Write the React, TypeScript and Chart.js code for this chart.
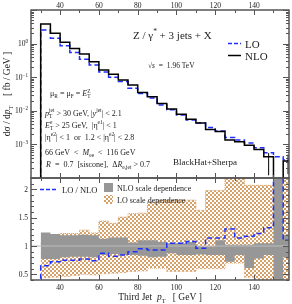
import React, { useEffect, useRef } from 'react';
import { Chart, registerables } from 'chart.js';
Chart.register(...registerables);

// ---------- DATA ----------
const binEdges = [30, 35, 40, 45, 50, 55, 60, 65, 70, 75, 80, 85, 90, 95, 100, 105, 110, 115, 120, 125, 130, 135, 140, 145, 150, 155, 160];
const nloValues = [3.83, 2.02, 1.09, 0.72, 0.49, 0.29, 0.164, 0.123, 0.083, 0.059, 0.035, 0.026, 0.0166, 0.0113, 0.0079, 0.0056, 0.0043, 0.0028, 0.0024, 0.00135, 0.0012, 0.00095, 0.0007, 0.00043, 0.000001, 0.00032];
const loValues = [2.54, 1.44, 0.87, 0.54, 0.34, 0.23, 0.144, 0.1, 0.074, 0.047, 0.033, 0.0242, 0.015, 0.0108, 0.0075, 0.0053, 0.0043, 0.0032, 0.0025, 0.0016, 0.00135, 0.0011, 0.0008, 0.00056, 0.00043, 0.00035];
const nloErrX = [147.5, 157.5];
const nloErrLow = [0.00012, 0.00013];
const nloErrHigh = [0.00055, 0.0005];

const ratioLoNlo = [0.65, 0.72, 0.75, 0.75, 0.77, 0.74, 0.87, 0.82, 0.84, 0.9, 0.95, 0.93, 0.93, 1.05, 1.05, 1.08, 0.96, 1.14, 1.14, 1.3, 1.14, 1.17, 1.22, 1.32, 5, 1.1];
const nloBandHigh = [1.24, 1.21, 1.19, 1.19, 1.2, 1.19, 1.13, 1.15, 1.15, 1.06, 1.1, 1.1, 1.075, 1.05, 1.05, 1.07, 0.99, 0.99, 1.1, 1.02, 1.02, 1.02, 1.05, 1.05, 3, 1.2];
const nloBandLow = [0.77, 0.77, 0.8, 0.81, 0.81, 0.8, 0.84, 0.86, 0.84, 0.84, 0.83, 0.8, 0.81, 0.87, 0.84, 0.84, 0.85, 0.84, 0.84, 0.72, 0.84, 0.61, 0.78, 0.84, 0, 0.8];
const loBandHigh = [1.05, 1.16, 1.22, 1.22, 1.28, 1.23, 1.44, 1.4, 1.51, 1.57, 1.58, 1.78, 1.8, 1.81, 1.81, 1.81, 1.63, 1.98, 1.98, 2.3, 2.3, 2.07, 2.07, 2.07, 3, 2.3];
const loBandLow = [0.44, 0.45, 0.46, 0.48, 0.5, 0.49, 0.51, 0.52, 0.53, 0.55, 0.56, 0.61, 0.61, 0.55, 0.55, 0.55, 0.6, 0.6, 0.6, 0.7, 0.7, 0.45, 0.4, 0.4, 0, 0.4];

const xMajorTicks = [40, 60, 80, 100, 120, 140];
const xMinorTicks = [30, 50, 70, 90, 110, 130, 150];
const upperDecades = [-4, -3, -2, -1, 0, 1];
const upperLabelDecades = [0, -1, -2, -3];
const lowerMajorTicks = [0.5, 1, 1.5, 2];
const lowerMajorLabels = ['0.5', '1', '1.5', '2'];

const X_MIN = 25, X_MAX = 158;
const FONT = '"Liberation Serif", "Times New Roman", serif';
const FRAME = '#555555';
const BLUE = '#1f2fff';
const ORANGE = '#d6a169';
const GREY = '#979797';

type Seg = { t?: string; it?: boolean; sub?: string; sup?: string };

function drawRich(ctx: CanvasRenderingContext2D, segs: Seg[], x: number, y: number, size: number, align: 'left' | 'center' | 'right' = 'left') {
  const f = (s: number, it?: boolean) => `${it ? 'italic ' : ''}${s}px ${FONT}`;
  const ss = size * 0.68;
  const widthOf = (s: Seg) => {
    let w = 0;
    if (s.t) { ctx.font = f(size, s.it); w += ctx.measureText(s.t).width; }
    let ws = 0;
    if (s.sub) { ctx.font = f(ss); ws = ctx.measureText(s.sub).width; }
    if (s.sup) { ctx.font = f(ss); ws = Math.max(ws, ctx.measureText(s.sup).width); }
    return w + ws;
  };
  const total = segs.reduce((a, s) => a + widthOf(s), 0);
  let cx = align === 'left' ? x : align === 'center' ? x - total / 2 : x - total;
  ctx.textAlign = 'left';
  ctx.textBaseline = 'alphabetic';
  for (const s of segs) {
    if (s.t) { ctx.font = f(size, s.it); ctx.fillText(s.t, cx, y); cx += ctx.measureText(s.t).width; }
    let ws = 0;
    if (s.sub) { ctx.font = f(ss); ctx.fillText(s.sub, cx, y + size * 0.28); ws = ctx.measureText(s.sub).width; }
    if (s.sup) { ctx.font = f(ss); ctx.fillText(s.sup, cx, y - size * 0.42); ws = Math.max(ws, ctx.measureText(s.sup).width); }
    cx += ws;
  }
}

function stepPoints(values: number[], start?: number) {
  const pts: { x: number; y: number }[] = [];
  if (start !== undefined) pts.push({ x: binEdges[0], y: start });
  binEdges.forEach((e, i) => pts.push({ x: e, y: values[Math.min(i, values.length - 1)] }));
  return pts;
}

function drawXTicks(ctx: CanvasRenderingContext2D, chart: any) {
  const a = chart.chartArea;
  const xs = chart.scales.x;
  ctx.strokeStyle = FRAME;
  ctx.lineWidth = 1;
  const t = (v: number, len: number) => {
    const px = Math.round(xs.getPixelForValue(v)) + 0.5;
    ctx.beginPath();
    ctx.moveTo(px, a.top); ctx.lineTo(px, a.top + len);
    ctx.moveTo(px, a.bottom); ctx.lineTo(px, a.bottom - len);
    ctx.stroke();
  };
  xMajorTicks.forEach(v => t(v, 5));
  xMinorTicks.forEach(v => t(v, 3));
}

function drawYTick(ctx: CanvasRenderingContext2D, a: any, py: number, len: number) {
  const y = Math.round(py) + 0.5;
  ctx.beginPath();
  ctx.moveTo(a.left, y); ctx.lineTo(a.left + len, y);
  ctx.moveTo(a.right, y); ctx.lineTo(a.right - len, y);
  ctx.stroke();
}

function drawFrame(ctx: CanvasRenderingContext2D, a: any) {
  ctx.strokeStyle = FRAME;
  ctx.lineWidth = 1.5;
  ctx.strokeRect(a.left, a.top, a.right - a.left, a.bottom - a.top);
}

const upperDecor = {
  id: 'upperDecor',
  afterDraw(chart: any) {
    const ctx: CanvasRenderingContext2D = chart.ctx;
    const a = chart.chartArea;
    const ys = chart.scales.y;
    const xs = chart.scales.x;
    ctx.save();
    drawXTicks(ctx, chart);
    ctx.strokeStyle = FRAME;
    ctx.lineWidth = 1;
    upperDecades.forEach(k => {
      const base = Math.pow(10, k);
      if (base >= 1e-4 && base <= 10) drawYTick(ctx, a, ys.getPixelForValue(base), 6);
      for (let m = 2; m <= 9; m++) {
        const v = m * base;
        if (v > 1e-4 && v < 10) drawYTick(ctx, a, ys.getPixelForValue(v), 3);
      }
    });
    drawFrame(ctx, a);
    ctx.fillStyle = '#222';
    ctx.font = `7.5px ${FONT}`;
    ctx.textAlign = 'center';
    ctx.textBaseline = 'alphabetic';
    xMajorTicks.forEach(v => ctx.fillText(String(v), xs.getPixelForValue(v), 8));
    upperLabelDecades.forEach(k => {
      drawRich(ctx, [{ t: '10', sup: k === 0 ? '0' : '\u2212' + String(-k) }], 28, ys.getPixelForValue(Math.pow(10, k)) + 2.6, 7.5, 'right');
    });
    ctx.save();
    ctx.translate(10, 94);
    ctx.rotate(-Math.PI / 2);
    drawRich(ctx, [{ t: 'd\u03c3 / d' }, { t: 'p', it: true, sub: 'T' }, { t: '    [ fb / GeV ]' }], 0, 0, 9.5, 'center');
    ctx.restore();
    drawRich(ctx, [{ t: 'Z / \u03b3', sup: '*' }, { t: ' + 3 jets + X' }], 133, 39, 11, 'left');
    ctx.strokeStyle = BLUE; ctx.lineWidth = 1.5; ctx.setLineDash([4, 2]);
    ctx.beginPath(); ctx.moveTo(228, 43.5); ctx.lineTo(241, 43.5); ctx.stroke();
    ctx.setLineDash([]); ctx.strokeStyle = '#000';
    ctx.beginPath(); ctx.moveTo(228, 55.5); ctx.lineTo(241, 55.5); ctx.stroke();
    ctx.fillStyle = '#222';
    drawRich(ctx, [{ t: 'LO' }], 245, 47.5, 11);
    drawRich(ctx, [{ t: 'NLO' }], 245, 59.5, 11);
    drawRich(ctx, [{ t: '\u221a' }, { t: 's', it: true }, { t: '  =  1.96 TeV' }], 148, 68, 7.5);
    const S = 8;
    drawRich(ctx, [{ t: '\u03bc', sub: 'R' }, { t: ' = \u03bc', sub: 'F' }, { t: ' = ' }, { t: 'E', it: true, sub: 'T', sup: 'Z' }], 50, 96, S);
    drawRich(ctx, [{ t: 'p', it: true, sub: 'T', sup: 'jet' }, { t: ' > 30 GeV, |' }, { t: 'y', it: true, sup: 'jet' }, { t: '| < 2.1' }], 45, 115.5, S);
    drawRich(ctx, [{ t: 'E', it: true, sub: 'T', sup: 'e' }, { t: ' > 25 GeV,  |\u03b7', sup: 'e1' }, { t: '| < 1' }], 45, 127.5, S);
    drawRich(ctx, [{ t: '|\u03b7', sup: 'e2' }, { t: '| < 1  or  1.2 < |\u03b7', sup: 'e2' }, { t: '| < 2.8' }], 45, 139.5, S);
    drawRich(ctx, [{ t: '66 GeV  <  ' }, { t: 'M', it: true, sub: 'ee' }, { t: '  <  116 GeV' }], 45, 154.5, S);
    drawRich(ctx, [{ t: 'R', it: true }, { t: '  =  0.7  [siscone],  \u0394' }, { t: 'R', it: true, sub: 'e,jet' }, { t: ' > 0.7' }], 46, 166.5, S);
    drawRich(ctx, [{ t: 'BlackHat+Sherpa' }], 173, 165, 9);
    ctx.restore();
  },
};

let checkerPattern: CanvasPattern | null = null;

const lowerDecor = {
  id: 'lowerDecor',
  afterDraw(chart: any) {
    const ctx: CanvasRenderingContext2D = chart.ctx;
    const a = chart.chartArea;
    const ys = chart.scales.y;
    const xs = chart.scales.x;
    ctx.save();
    drawXTicks(ctx, chart);
    ctx.strokeStyle = FRAME;
    ctx.lineWidth = 1;
    for (let i = 4; i <= 22; i++) {
      const v = i / 10;
      const major = lowerMajorTicks.some(m => Math.abs(m - v) < 1e-6);
      drawYTick(ctx, a, ys.getPixelForValue(v), major ? 6 : 3);
    }
    drawFrame(ctx, a);
    ctx.fillStyle = '#222';
    ctx.font = `7.5px ${FONT}`;
    ctx.textAlign = 'center';
    ctx.textBaseline = 'alphabetic';
    xMajorTicks.forEach(v => ctx.fillText(String(v), xs.getPixelForValue(v), 290));
    ctx.textAlign = 'right';
    lowerMajorTicks.forEach((v, i) => ctx.fillText(lowerMajorLabels[i], 28, ys.getPixelForValue(v) + 2.6));
    drawRich(ctx, [{ t: 'Third Jet  ' }, { t: 'p', it: true, sub: 'T' }, { t: '   [ GeV ]' }], 160, 300, 9.5, 'center');
    ctx.strokeStyle = BLUE; ctx.lineWidth = 1.5; ctx.setLineDash([4, 2]);
    ctx.beginPath(); ctx.moveTo(40, 189.5); ctx.lineTo(58, 189.5); ctx.stroke();
    ctx.setLineDash([]);
    ctx.fillStyle = '#222';
    drawRich(ctx, [{ t: 'LO / NLO' }], 62, 192.5, 8.5);
    ctx.fillStyle = GREY;
    ctx.fillRect(104, 183, 9, 9);
    if (checkerPattern) { ctx.fillStyle = checkerPattern; ctx.fillRect(104, 195, 9, 9); }
    ctx.fillStyle = '#222';
    drawRich(ctx, [{ t: 'NLO scale dependence' }], 117, 190.5, 8);
    drawRich(ctx, [{ t: 'LO scale dependence' }], 117, 202.5, 8);
    ctx.restore();
  },
};

export default function App() {
  const upperRef = useRef<HTMLCanvasElement>(null);
  const lowerRef = useRef<HTMLCanvasElement>(null);

  useEffect(() => {
    const uc = upperRef.current!;
    const lc = lowerRef.current!;
    const pc = document.createElement('canvas');
    pc.width = 4; pc.height = 4;
    const g = pc.getContext('2d')!;
    g.fillStyle = '#ffffff'; g.fillRect(0, 0, 4, 4);
    g.fillStyle = ORANGE; g.fillRect(0, 0, 2, 2); g.fillRect(2, 2, 2, 2);
    checkerPattern = lc.getContext('2d')!.createPattern(pc, 'repeat');

    const common = {
      animation: false as const,
      responsive: false,
      maintainAspectRatio: false,
      devicePixelRatio: 1,
      plugins: { legend: { display: false }, tooltip: { enabled: false } },
      elements: { point: { radius: 0 }, line: { tension: 0 } },
      events: [] as any[],
    };

    const upper = new Chart(uc, {
      type: 'line',
      data: {
        datasets: [
          { data: stepPoints(nloValues, 1e-6), borderColor: '#000', borderWidth: 1.5, stepped: 'before', fill: false },
          { data: stepPoints(loValues, 1e-6), borderColor: BLUE, borderWidth: 1.5, borderDash: [5, 3], stepped: 'before', fill: false },
          ...nloErrX.map((x, i) => ({ data: [{ x, y: nloErrLow[i] }, { x, y: nloErrHigh[i] }], borderColor: '#000', borderWidth: 1, fill: false })),
        ] as any,
      },
      options: {
        ...common,
        layout: { padding: { left: 31, right: 3, top: 10, bottom: 126 } },
        scales: {
          x: { type: 'linear', min: X_MIN, max: X_MAX, display: false },
          y: { type: 'logarithmic', min: 1e-4, max: 10, display: false },
        },
      } as any,
      plugins: [upperDecor],
    });

    const lower = new Chart(lc, {
      type: 'line',
      data: {
        datasets: [
          { data: stepPoints(ratioLoNlo, 0), borderColor: BLUE, borderWidth: 1.5, borderDash: [5, 3], stepped: 'before', fill: false },
          { data: [{ x: X_MIN, y: 1 }, { x: X_MAX, y: 1 }], borderColor: '#bdbdbd', borderWidth: 1, fill: false },
          { data: stepPoints(nloBandHigh), borderWidth: 0, borderColor: 'rgba(0,0,0,0)', backgroundColor: GREY, stepped: 'before', fill: '+1' },
          { data: stepPoints(nloBandLow), borderWidth: 0, borderColor: 'rgba(0,0,0,0)', stepped: 'before', fill: false },
          { data: stepPoints(loBandHigh), borderWidth: 1, borderColor: ORANGE, borderDash: [1, 1], backgroundColor: checkerPattern, stepped: 'before', fill: '+1' },
          { data: stepPoints(loBandLow), borderWidth: 1, borderColor: ORANGE, borderDash: [1, 1], stepped: 'before', fill: false },
        ] as any,
      },
      options: {
        ...common,
        layout: { padding: { left: 31, right: 3, top: 178, bottom: 24 } },
        scales: {
          x: { type: 'linear', min: X_MIN, max: X_MAX, display: false },
          y: { type: 'linear', min: 0.4, max: 2.2, display: false },
        },
      } as any,
      plugins: [lowerDecor],
    });

    return () => { upper.destroy(); lower.destroy(); };
  }, []);

  const cs: React.CSSProperties = { position: 'absolute', left: 0, top: 0, width: 292, height: 304 };
  return (
    <div style={{ position: 'fixed', left: 0, top: 0, width: 292, height: 304, background: '#fff' }}>
      <canvas ref={lowerRef} width={292} height={304} style={cs} />
      <canvas ref={upperRef} width={292} height={304} style={cs} />
    </div>
  );
}
